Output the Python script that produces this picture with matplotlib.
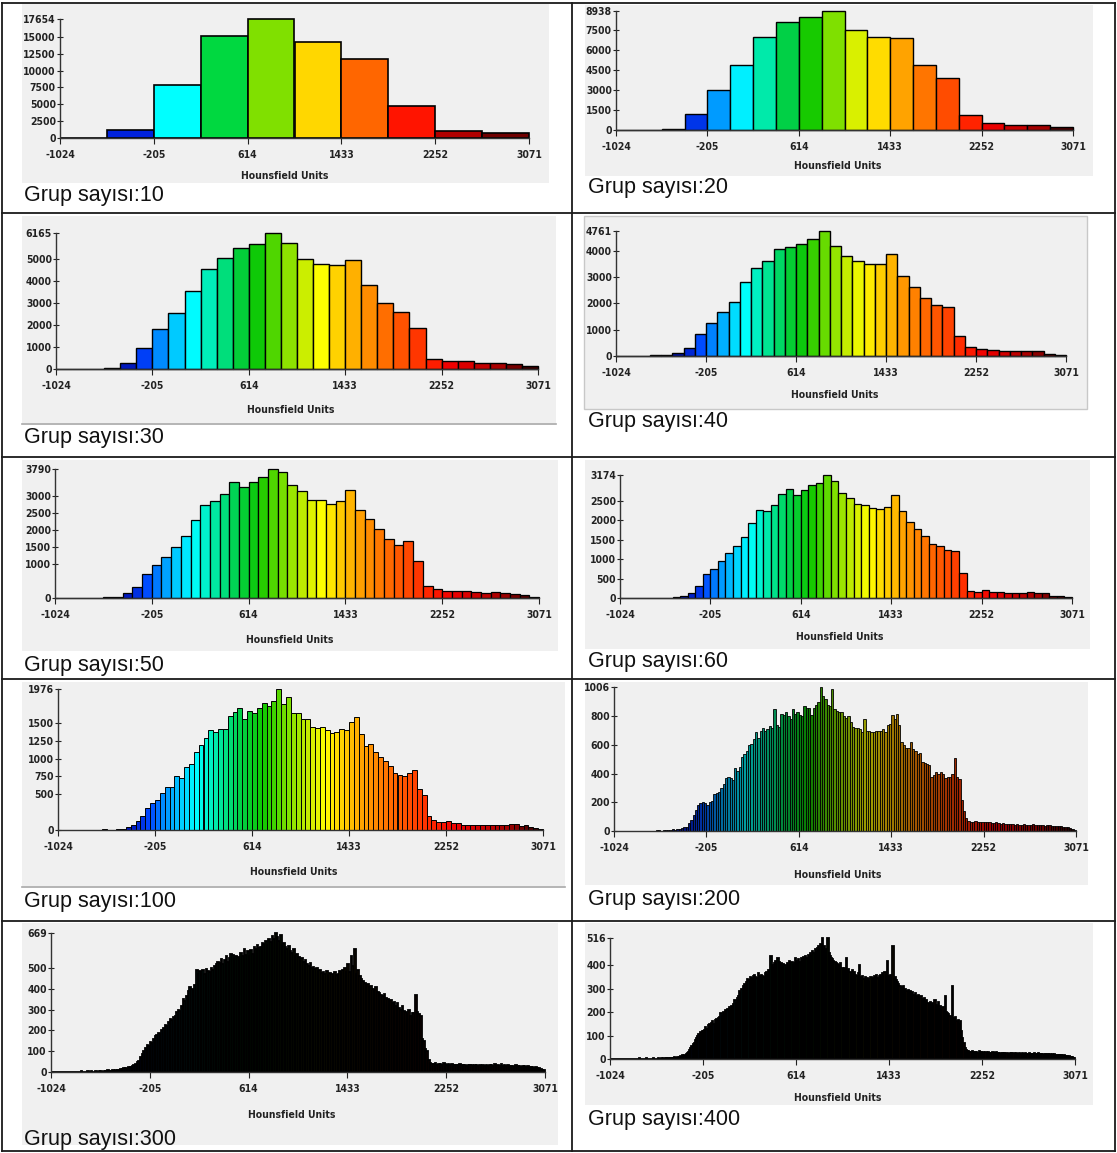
import numpy as np
import matplotlib
matplotlib.use("Agg")
import matplotlib.pyplot as plt
from matplotlib.colors import LinearSegmentedColormap
from matplotlib.patches import Rectangle
from matplotlib.lines import Line2D
from matplotlib import font_manager

# ---------------- data (counts per bin) ----------------
hu_ticks = [-1024, -205, 614, 1433, 2252, 3071]

bins10 = [10, 1250, 7800, 15100, 17654, 14300, 11700, 4800, 1000, 700]

bins20 = [0, 10, 60, 1200, 3000, 4900, 7000, 8100, 8500, 8938,
          7500, 7000, 6900, 4900, 3900, 1100, 550, 400, 400, 200]

bins30 = [0, 0, 0, 60, 250, 950,
          1800, 2550, 3550, 4550, 5050, 5500,
          5650, 6165, 5700, 5000, 4750, 4700,
          4950, 3800, 3000, 2600, 1850, 450,
          350, 350, 280, 280, 220, 150]

bins40 = [0, 0, 0, 20, 40, 130, 290, 850,
          1240, 1670, 2050, 2820, 3350, 3610, 4090, 4150,
          4280, 4470, 4761, 4200, 3820, 3610, 3490, 3490,
          3890, 3060, 2630, 2215, 1940, 1870, 760, 340,
          260, 240, 200, 200, 200, 190, 90, 40]

bins50 = [0, 0, 0, 5, 10, 15, 30, 140, 320, 710,
          960, 1206, 1510, 1824, 2284, 2725, 2853, 3059, 3412, 3275,
          3412, 3549, 3790, 3706, 3314, 3157, 2892, 2892, 2765, 2863,
          3167, 2598, 2333, 2039, 1735, 1549, 1686, 1078, 343, 255,
          200, 200, 200, 170, 160, 170, 160, 130, 80, 30]

bins60 = [0, 0, 0, 0, 0, 10, 10, 20, 40, 130, 310, 610,
          740, 955, 1170, 1330, 1580, 1925, 2260, 2235, 2400, 2680, 2810, 2670,
          2785, 2910, 2965, 3174, 3015, 2705, 2575, 2425, 2390, 2320, 2285, 2355,
          2670, 2240, 1960, 1780, 1610, 1390, 1350, 1250, 1210, 650, 190, 150,
          200, 160, 160, 120, 120, 120, 150, 120, 120, 60, 40, 20]

bins100 = [0, 0, 0, 0, 0, 0, 0, 0, 0, 20,
           5, 5, 10, 10, 40, 75, 130, 200, 310, 385,
           415, 520, 600, 600, 760, 735, 880, 930, 1090, 1185,
           1285, 1400, 1375, 1420, 1420, 1600, 1650, 1705, 1555, 1665,
           1635, 1710, 1775, 1735, 1805, 1976, 1770, 1870, 1640, 1640,
           1555, 1555, 1450, 1425, 1445, 1400, 1355, 1375, 1420, 1400,
           1515, 1590, 1350, 1175, 1200, 1090, 1020, 970, 900, 805,
           770, 760, 795, 845, 570, 490, 190, 135, 110, 110,
           125, 100, 100, 75, 75, 75, 75, 65, 75, 75,
           75, 75, 65, 85, 85, 55, 75, 45, 25, 15]

bins200 = [0, 0, 0, 0, 0, 0, 0, 0, 0, 0,
           0, 0, 0, 0, 0, 0, 0, 0, 10, 8,
           3, 5, 5, 8, 10, 12, 10, 15, 15, 22,
           25, 30, 55, 80, 110, 150, 185, 195, 200, 195,
           180, 205, 210, 260, 265, 270, 300, 330, 370, 380,
           370, 355, 440, 420, 450, 515, 540, 560, 600, 610,
           640, 690, 650, 700, 720, 700, 710, 735, 720, 850,
           740, 730, 820, 810, 830, 800, 780, 850, 820, 830,
           810, 800, 870, 860, 860, 810, 860, 880, 900, 1006,
           940, 920, 880, 870, 990, 850, 840, 830, 830, 800,
           790, 800, 760, 730, 720, 720, 710, 690, 780, 700,
           700, 690, 690, 700, 700, 700, 710, 690, 740, 750,
           810, 780, 820, 740, 620, 600, 580, 580, 620, 570,
           560, 540, 545, 480, 475, 470, 460, 380, 390, 410,
           400, 410, 400, 370, 380, 375, 400, 510, 380, 360,
           220, 140, 90, 70, 65, 62, 68, 65, 60, 62,
           65, 60, 62, 58, 55, 60, 55, 52, 55, 50,
           48, 52, 50, 45, 48, 42, 45, 50, 45, 42,
           45, 48, 42, 45, 40, 42, 38, 42, 40, 38,
           35, 38, 32, 35, 28, 30, 25, 20, 15, 10]

bins300 = [0, 0, 0, 0, 0, 0, 0, 0, 0, 0,
           0, 0, 0, 0, 0, 0, 0, 0, 3, 0,
           2, 0, 5, 0, 3, 0, 2, 5, 0, 3,
           4, 2, 6, 3, 8, 5, 4, 10, 6, 8,
           12, 10, 15, 14, 18, 20, 16, 22, 25, 28,
           35, 40, 48, 55, 70, 85, 100, 115, 130, 125,
           145, 140, 160, 175, 180, 190, 185, 200, 210, 225,
           220, 240, 255, 250, 265, 270, 290, 300, 295, 320,
           350, 340, 365, 390, 410, 400, 395, 420, 490, 470,
           485, 480, 490, 470, 495, 485, 480, 500, 490, 510,
           520, 530, 525, 545, 520, 540, 560, 530, 550, 570,
           565, 550, 560, 555, 545, 575, 560, 590, 565, 580,
           560, 585, 570, 600, 590, 610, 595, 600, 620, 615,
           630, 610, 640, 625, 655, 640, 669, 650, 630, 660,
           610, 620, 600, 590, 605, 580, 575, 590, 560, 570,
           555, 545, 550, 530, 540, 520, 510, 525, 500, 505,
           495, 500, 485, 490, 475, 480, 470, 485, 465, 475,
           470, 460, 480, 465, 470, 485, 475, 490, 500, 480,
           520, 480, 560, 510, 590, 470, 490, 460, 450, 440,
           430, 420, 425, 410, 415, 400, 395, 410, 385, 380,
           370, 365, 375, 355, 350, 340, 345, 330, 335, 320,
           330, 310, 300, 320, 295, 290, 280, 300, 270, 285,
           285, 370, 290, 280, 270, 160, 150, 110, 100, 60,
           45, 40, 38, 42, 35, 40, 38, 35, 42, 38,
           36, 40, 35, 38, 34, 36, 32, 35, 38, 34,
           33, 35, 30, 34, 32, 36, 30, 33, 35, 30,
           32, 30, 34, 28, 32, 30, 35, 32, 28, 40,
           30, 33, 28, 38, 30, 32, 27, 35, 30, 28,
           30, 26, 32, 28, 30, 25, 28, 30, 24, 27,
           25, 22, 24, 20, 22, 18, 20, 15, 12, 10]

bins400 = [0, 0, 0, 0, 0, 0, 0, 0, 0, 0,
           0, 0, 0, 0, 0, 0, 0, 0, 0, 0,
           0, 0, 0, 0, 0, 3, 0, 0, 2, 0,
           0, 3, 0, 0, 2, 0, 0, 4, 0, 2,
           0, 3, 0, 2, 4, 0, 3, 2, 5, 3,
           2, 6, 4, 3, 5, 8, 5, 6, 10, 8,
           12, 10, 15, 14, 18, 20, 25, 30, 38, 45,
           55, 62, 70, 80, 90, 100, 105, 115, 112, 120,
           118, 125, 135, 130, 145, 150, 140, 155, 160, 150,
           165, 170, 160, 175, 180, 195, 185, 200, 190, 210,
           205, 215, 220, 210, 225, 220, 235, 250, 240, 260,
           270, 290, 280, 300, 310, 320, 305, 330, 340, 335,
           350, 345, 340, 355, 360, 350, 345, 365, 355, 350,
           360, 355, 350, 365, 370, 360, 380, 375, 440, 400,
           390, 410, 420, 405, 430, 415, 400, 410, 395, 405,
           400, 390, 410, 395, 420, 405, 415, 400, 410, 430,
           420, 410, 425, 415, 430, 420, 435, 425, 440, 430,
           445, 435, 450, 440, 460, 450, 470, 455, 475, 480,
           470, 490, 516, 465, 480, 460, 470, 516, 450, 440,
           430, 425, 420, 415, 410, 405, 400, 395, 410, 390,
           385, 390, 380, 430, 375, 385, 370, 365, 380, 360,
           370, 360, 355, 365, 400, 350, 345, 355, 340, 350,
           335, 345, 340, 330, 350, 340, 345, 355, 350, 360,
           345, 355, 360, 350, 365, 355, 370, 360, 420, 355,
           350, 360, 345, 480, 340, 350, 335, 330, 320, 310,
           305, 300, 310, 295, 300, 290, 295, 285, 290, 280,
           285, 275, 280, 270, 265, 275, 260, 270, 255, 250,
           260, 245, 250, 240, 235, 245, 230, 240, 225, 250,
           230, 220, 245, 215, 225, 210, 220, 205, 270, 200,
           195, 190, 185, 180, 310, 175, 170, 180, 160, 165,
           150, 160, 120, 90, 70, 45, 40, 35, 32, 30,
           28, 32, 30, 26, 30, 28, 25, 32, 28, 30,
           27, 30, 25, 28, 26, 30, 24, 27, 25, 28,
           26, 24, 28, 22, 25, 27, 23, 26, 24, 25,
           22, 25, 20, 23, 26, 24, 21, 25, 22, 24,
           23, 21, 25, 22, 24, 20, 23, 25, 21, 22,
           24, 22, 20, 23, 21, 25, 22, 20, 24, 21,
           22, 20, 23, 19, 22, 21, 18, 22, 20, 19,
           20, 18, 21, 17, 19, 16, 18, 15, 17, 14,
           15, 13, 14, 12, 10, 11, 8, 9, 6, 5]

yt10 = [0, 2500, 5000, 7500, 10000, 12500, 15000, 17654]
yt20 = [0, 1500, 3000, 4500, 6000, 7500, 8938]
yt30 = [0, 1000, 2000, 3000, 4000, 5000, 6165]
yt40 = [0, 1000, 2000, 3000, 4000, 4761]
yt50 = [0, 1000, 1500, 2000, 2500, 3000, 3790]
yt60 = [0, 500, 1000, 1500, 2000, 2500, 3174]
yt100 = [0, 500, 750, 1000, 1250, 1500, 1976]
yt200 = [0, 200, 400, 600, 800, 1006]
yt300 = [0, 100, 200, 300, 400, 500, 669]
yt400 = [0, 100, 200, 300, 400, 516]

group_counts = [10, 20, 30, 40, 50, 60, 100, 200, 300, 400]
caption_prefix = "Grup sayısı:"
xlabel_text = "Hounsfield Units"

# ---------------- styles / layout ----------------
W, H = 1117, 1153
fig = plt.figure(figsize=(W / 100, H / 100), dpi=100)
fig.patch.set_facecolor("white")

avail = {f.name for f in font_manager.fontManager.ttflist}
if "Liberation Sans Narrow" in avail:
    tick_font = dict(family="Liberation Sans Narrow", weight="bold")
elif "DejaVu Sans" in avail:
    tick_font = dict(family="DejaVu Sans", weight="bold", stretch="condensed")
else:
    tick_font = dict(weight="bold")
cap_family = ["Liberation Sans", "Arial", "DejaVu Sans"]

anchors = [(0.00, "#000000"), (0.10, "#000040"), (0.15, "#0018c0"),
           (0.185, "#0045ff"), (0.22, "#0095ff"), (0.25, "#00c8ff"),
           (0.285, "#00ffff"), (0.33, "#00e8a0"), (0.375, "#00d048"),
           (0.42, "#10c800"), (0.475, "#80e000"), (0.525, "#d8f000"),
           (0.55, "#ffff00"), (0.58, "#ffd700"), (0.63, "#ffa000"),
           (0.68, "#ff7000"), (0.73, "#ff4800"), (0.78, "#ff2000"),
           (0.82, "#f00000"), (0.88, "#c80000"), (0.93, "#a00000"),
           (1.00, "#200000")]
cmap = LinearSegmentedColormap.from_list("hu", anchors)
colors10 = ["#000000", "#0022dd", "#00ffff", "#00d840", "#80e000",
            "#ffd700", "#ff6600", "#ff1400", "#b00000", "#700000"]


def fx(x):
    return x / W


def fy(y):
    return 1 - y / H


# per panel: x0, x1, y_zero, y_top, gray box (l,t,r,b), xlabel (cx, cy), caption (x, y),
#            edge lw, colour brightness factor
layouts = [
    (60, 529, 138, 19, (22, 4, 549, 183), (285, 176), (24, 195), 1.2, 1.0),
    (616, 1073, 130, 11, (585, 5, 1093, 176), (838, 166), (588, 188), 1.0, 1.0),
    (56, 538, 369, 233, (22, 216, 556, 423), (291, 410), (24, 437), 1.0, 1.0),
    (616, 1066, 356, 231, (584, 216, 1087, 409), (835, 395), (588, 422), 1.0, 1.0),
    (55, 539, 598, 469, (22, 460, 558, 651), (290, 640), (24, 665), 0.9, 1.0),
    (620, 1072, 598, 475, (585, 460, 1090, 649), (840, 637), (588, 662), 0.9, 1.0),
    (58, 543, 830, 689, (22, 682, 565, 886), (294, 872), (24, 901), 0.7, 1.0),
    (614, 1076, 831, 687, (585, 682, 1088, 885), (838, 875), (588, 899), 0.6, 0.62),
    (51, 545, 1072, 933, (22, 923, 558, 1145), (292, 1115), (24, 1140), 1.3, 0.3),
    (610, 1075, 1059, 938, (585, 923, 1093, 1105), (838, 1098), (588, 1120), 1.3, 0.3),
]
datasets = [bins10, bins20, bins30, bins40, bins50, bins60,
            bins100, bins200, bins300, bins400]
yticks_all = [yt10, yt20, yt30, yt40, yt50, yt60, yt100, yt200, yt300, yt400]

for idx, (vals, yts, lay, ng) in enumerate(zip(datasets, yticks_all, layouts, group_counts)):
    x0, x1, yz, ytop, gbox, xl, cap, lw, bright = lay
    gl, gt, gr, gb = gbox
    fig.add_artist(Rectangle((fx(gl), fy(gb)), fx(gr) - fx(gl), fy(gt) - fy(gb),
                             transform=fig.transFigure, facecolor="#f0f0f0",
                             edgecolor="none", zorder=0))
    ax = fig.add_axes([fx(x0), fy(yz), fx(x1) - fx(x0), fy(ytop) - fy(yz)])
    ax.patch.set_alpha(0)
    n = len(vals)
    edges = np.linspace(hu_ticks[0], hu_ticks[-1], n + 1)
    if n == 10:
        cols = colors10
    else:
        c = cmap((np.arange(n) + 0.5) / n)
        c[:, :3] = c[:, :3] * bright
        cols = c
    ax.bar(edges[:-1], vals, width=np.diff(edges), align="edge", color=cols,
           edgecolor="black", linewidth=lw, clip_on=False, zorder=2)
    ax.set_xlim(hu_ticks[0], hu_ticks[-1])
    ax.set_ylim(0, yts[-1])
    for s in ("top", "right"):
        ax.spines[s].set_visible(False)
    for s in ("left", "bottom"):
        ax.spines[s].set_color("#333333")
        ax.spines[s].set_linewidth(1.0)
        ax.spines[s].set_zorder(3)
    ax.set_xticks(hu_ticks)
    ax.set_xticklabels([str(t) for t in hu_ticks])
    ax.set_yticks(yts)
    ax.set_yticklabels([str(t) for t in yts])
    ax.tick_params(axis="x", direction="out", length=4, width=0.8, pad=4.5,
                   labelsize=7.5, colors="#222222")
    ax.tick_params(axis="y", direction="inout", length=5, width=0.8, pad=0.5,
                   labelsize=7.5, colors="#222222")
    for lab in ax.get_xticklabels() + ax.get_yticklabels():
        lab.set_fontproperties(font_manager.FontProperties(size=7.5, **tick_font))
    fig.text(fx(xl[0]), fy(xl[1]), xlabel_text, ha="center", va="center",
             fontsize=7.5, color="#222222", **tick_font)
    fig.text(fx(cap[0]), fy(cap[1]), f"{caption_prefix}{ng}", ha="left",
             va="center", fontsize=15.5, family=cap_family, color="#111111")

# thin separator lines under some gray areas
fig.add_artist(Line2D([fx(22), fx(556)], [fy(423.5), fy(423.5)],
                      transform=fig.transFigure, color="#a8a8a8", lw=1.2))
fig.add_artist(Line2D([fx(22), fx(565)], [fy(886.5), fy(886.5)],
                      transform=fig.transFigure, color="#a8a8a8", lw=1.2))
fig.add_artist(Rectangle((fx(584), fy(409)), fx(1087) - fx(584), fy(216) - fy(409),
                         transform=fig.transFigure, facecolor="none",
                         edgecolor="#c8c8c8", lw=1.0))

# table grid
lc = "#1a1a1a"
for yv in [3, 213, 457, 679, 921, 1151]:
    fig.add_artist(Line2D([fx(2), fx(1115)], [fy(yv), fy(yv)],
                          transform=fig.transFigure, color=lc, lw=1.3))
for xv in [2, 572, 1115]:
    fig.add_artist(Line2D([fx(xv), fx(xv)], [fy(3), fy(1151)],
                          transform=fig.transFigure, color=lc, lw=1.3))

fig.savefig("out.png", dpi=100, facecolor="white")
